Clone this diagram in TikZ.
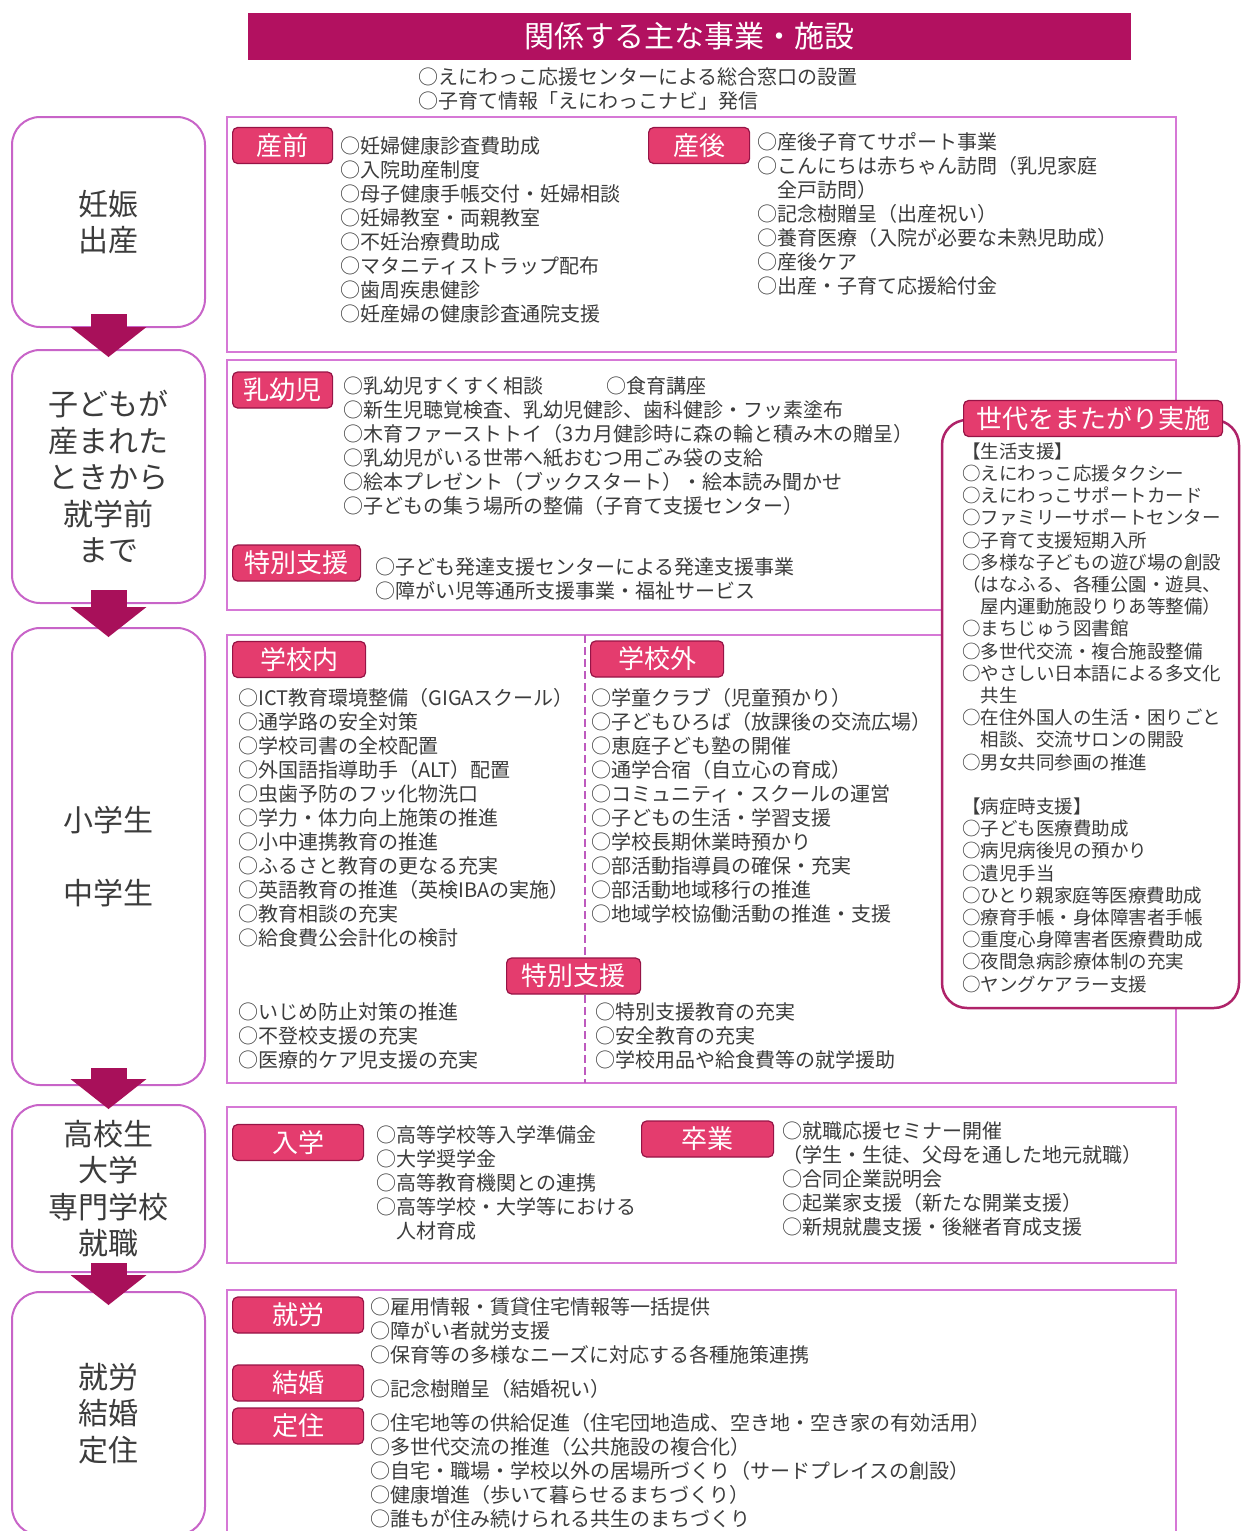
\documentclass[tikz,border=0pt]{standalone}
\usepackage{fontspec}
\newfontfamily\jpfont{Noto Sans CJK JP}
\usetikzlibrary{arrows.meta,calc}
\definecolor{headcol}{RGB}{178,17,96}
\definecolor{arrowcol}{RGB}{168,16,90}
\definecolor{tagfill}{RGB}{228,60,110}
\definecolor{tagline}{RGB}{150,20,70}
\definecolor{boxline}{RGB}{214,120,214}
\definecolor{stageline}{RGB}{200,100,200}
\definecolor{sedailine}{RGB}{175,35,105}
\definecolor{divline}{RGB}{190,90,190}
\definecolor{textgray}{RGB}{60,60,60}

\begin{document}
\begin{tikzpicture}[x=1pt,y=-1pt,
  stage/.style={draw=stageline,line width=2pt,rounded corners=28pt,fill=white,
    minimum width=193pt,inner sep=0pt,align=center,text=textgray,
    font=\jpfont\fontsize{30}{36.5}\selectfont},
  tagbox/.style={draw=tagline,line width=1.2pt,fill=tagfill,rounded corners=5pt,
    text=white,minimum height=36pt,inner sep=0pt,anchor=west,
    font=\jpfont\fontsize{26}{30}\selectfont},
  items/.style={anchor=north west,inner sep=0pt,align=left,text=textgray,
    font=\jpfont\fontsize{20}{24}\selectfont},
  sectbox/.style={draw=boxline,line width=2pt},
  stagearrow/.style={-{Triangle[width=76pt,length=30pt,line width=0pt]},
    line width=36pt,draw=arrowcol}]
\useasboundingbox (0,0) rectangle (1242,1531);
%\draw[very thin,gray,step=50] (0,0) grid (1242,1531);

\node[fill=headcol,text=white,minimum width=883pt,minimum height=47pt,inner sep=0pt,
  font=\jpfont\fontsize{30}{34}\selectfont] (head) at (689.5,36.5) {関係する主な事業・施設};
\node[items] (madoguchi) at (418,67) {○えにわっこ応援センターによる総合窓口の設置\\○子育て情報「えにわっこナビ」発信};

% sections
\draw[sectbox] (227,117) rectangle (1176,352);
\draw[sectbox] (227,360) rectangle (1176,610);
\draw[sectbox] (227,635) rectangle (1176,1083);
\draw[sectbox] (227,1107) rectangle (1176,1263);
\draw[sectbox] (227,1290) rectangle (1176,1545);
\draw[divline,line width=1.5pt,dash pattern=on 8pt off 4pt] (585,635) -- (585,1083);

% stages
\node[stage,minimum height=210pt] (ninshin) at (108.5,222) {妊娠\\出産};
\node[stage,minimum height=253pt] (shugakumae) at (108.5,476.5) {子どもが\\産まれた\\ときから\\就学前\\まで};
\node[stage,minimum height=457pt] (gakkou) at (108.5,856.5) {小学生\\[36.5pt]中学生};
\node[stage,minimum height=167pt] (koukou) at (108.5,1188.5) {高校生\\大学\\専門学校\\就職};
\node[stage,minimum height=243pt] (teiju) at (108.5,1413.5) {就労\\結婚\\定住};
\draw[stagearrow] ($(ninshin.south)+(0,-14)$) -- ($(shugakumae.north)+(0,8)$);
\draw[stagearrow] ($(shugakumae.south)+(0,-14)$) -- ($(gakkou.north)+(0,10)$);
\draw[stagearrow] ($(gakkou.south)+(0,-18)$) -- ($(koukou.north)+(0,5)$);
\draw[stagearrow] ($(koukou.south)+(0,-10)$) -- ($(teiju.north)+(0,14)$);

% 妊娠・出産
\node[tagbox,minimum width=100pt] (tSanzen) at (232,145.5) {産前};
\node[items] (lSanzen) at (340,136) {○妊婦健康診査費助成\\○入院助産制度\\○母子健康手帳交付・妊婦相談\\○妊婦教室・両親教室\\○不妊治療費助成\\○マタニティストラップ配布\\○歯周疾患健診\\○妊産婦の健康診査通院支援};
\node[tagbox,minimum width=101pt] (tSango) at (648,145.5) {産後};
\node[items] (lSango) at (757,132) {○産後子育てサポート事業\\○こんにちは赤ちゃん訪問（乳児家庭\\\hspace*{1em}全戸訪問）\\○記念樹贈呈（出産祝い）\\○養育医療（入院が必要な未熟児助成）\\○産後ケア\\○出産・子育て応援給付金};

% 就学前
\node[tagbox,minimum width=100pt] (tNyuyoji) at (232,390) {乳幼児};
\node[items] (lNyuyoji) at (343,376) {○乳幼児すくすく相談\\○新生児聴覚検査、乳幼児健診、歯科健診・フッ素塗布\\○木育ファーストトイ（3カ月健診時に森の輪と積み木の贈呈）\\○乳幼児がいる世帯へ紙おむつ用ごみ袋の支給\\○絵本プレゼント（ブックスタート）・絵本読み聞かせ\\○子どもの集う場所の整備（子育て支援センター）};
\node[items] (lShokuiku) at (606,376) {○食育講座};
\node[tagbox,minimum width=128pt] (tTokubetsuA) at (232,563) {特別支援};
\node[items] (lTokubetsuA) at (375,557) {○子ども発達支援センターによる発達支援事業\\○障がい児等通所支援事業・福祉サービス};

% 小学生・中学生
\node[tagbox,minimum width=133pt] (tGakkounai) at (232,659.5) {学校内};
\node[items] (lGakkounai) at (238,688) {○ICT教育環境整備（GIGAスクール）\\○通学路の安全対策\\○学校司書の全校配置\\○外国語指導助手（ALT）配置\\○虫歯予防のフッ化物洗口\\○学力・体力向上施策の推進\\○小中連携教育の推進\\○ふるさと教育の更なる充実\\○英語教育の推進（英検IBAの実施）\\○教育相談の充実\\○給食費公会計化の検討};
\node[tagbox,minimum width=133pt] (tGakkougai) at (590,659) {学校外};
\node[items] (lGakkougai) at (591,688) {○学童クラブ（児童預かり）\\○子どもひろば（放課後の交流広場）\\○恵庭子ども塾の開催\\○通学合宿（自立心の育成）\\○コミュニティ・スクールの運営\\○子どもの生活・学習支援\\○学校長期休業時預かり\\○部活動指導員の確保・充実\\○部活動地域移行の推進\\○地域学校協働活動の推進・支援};
\node[tagbox,minimum width=134pt] (tTokubetsuB) at (506,976) {特別支援};
\node[items] (lTokubetsuB) at (238,1002) {○いじめ防止対策の推進\\○不登校支援の充実\\○医療的ケア児支援の充実};
\node[items] (rTokubetsuB) at (595,1002) {○特別支援教育の充実\\○安全教育の充実\\○学校用品や給食費等の就学援助};

% 高校生・大学・就職
\node[tagbox,minimum width=131pt] (tNyugaku) at (232,1142.5) {入学};
\node[items] (lNyugaku) at (376,1125) {○高等学校等入学準備金\\○大学奨学金\\○高等教育機関との連携\\○高等学校・大学等における\\\hspace*{1em}人材育成};
\node[tagbox,minimum width=132pt] (tSotsugyo) at (641,1139) {卒業};
\node[items] (lSotsugyo) at (782,1121) {○就職応援セミナー開催\\（学生・生徒、父母を通した地元就職）\\○合同企業説明会\\○起業家支援（新たな開業支援）\\○新規就農支援・後継者育成支援};

% 就労・結婚・定住
\node[tagbox,minimum width=131pt] (tShurou) at (232,1315) {就労};
\node[items] (lShurou) at (370,1297) {○雇用情報・賃貸住宅情報等一括提供\\○障がい者就労支援\\○保育等の多様なニーズに対応する各種施策連携};
\node[tagbox,minimum width=131pt] (tKekkon) at (232,1383) {結婚};
\node[items] (lKekkon) at (370,1379) {○記念樹贈呈（結婚祝い）};
\node[tagbox,minimum width=131pt] (tTeiju) at (232,1426) {定住};
\node[items] (lTeiju) at (370,1413) {○住宅地等の供給促進（住宅団地造成、空き地・空き家の有効活用）\\○多世代交流の推進（公共施設の複合化）\\○自宅・職場・学校以外の居場所づくり（サードプレイスの創設）\\○健康増進（歩いて暮らせるまちづくり）\\○誰もが住み続けられる共生のまちづくり};

% 世代をまたがり実施
\draw[draw=sedailine,line width=2.5pt,fill=white,rounded corners=25pt] (942,420) rectangle (1239,1008);
\node[tagbox,minimum width=259pt] (tSedai) at (963,418.5) {世代をまたがり実施};
\node[items,font=\jpfont\fontsize{18.5}{22.2}\selectfont] (lSedai) at (962,442.5) {【生活支援】\\○えにわっこ応援タクシー\\○えにわっこサポートカード\\○ファミリーサポートセンター\\○子育て支援短期入所\\○多様な子どもの遊び場の創設\\（はなふる、各種公園・遊具、\\\hspace*{1em}屋内運動施設りりあ等整備）\\○まちじゅう図書館\\○多世代交流・複合施設整備\\○やさしい日本語による多文化\\\hspace*{1em}共生\\○在住外国人の生活・困りごと\\\hspace*{1em}相談、交流サロンの開設\\○男女共同参画の推進\\[22.2pt]【病症時支援】\\○子ども医療費助成\\○病児病後児の預かり\\○遺児手当\\○ひとり親家庭等医療費助成\\○療育手帳・身体障害者手帳\\○重度心身障害者医療費助成\\○夜間急病診療体制の充実\\○ヤングケアラー支援};
\end{tikzpicture}
\end{document}
